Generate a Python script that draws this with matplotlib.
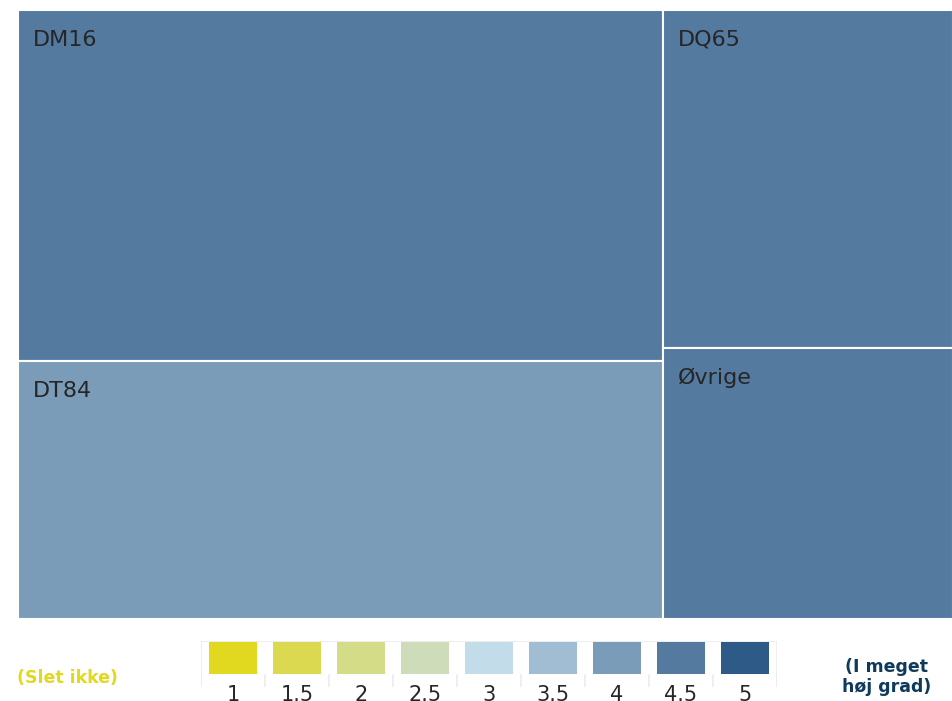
import matplotlib
matplotlib.use("Agg")
import matplotlib.pyplot as plt
from matplotlib.patches import Rectangle

# treemap tiles (share of total) and their score on the 1..5 scale
tile_names = ["DM16", "DT84", "DQ65", "Øvrige"]
tile_sizes = [39.8, 29.2, 17.2, 13.8]
tile_scores = [4.5, 4.0, 4.5, 4.5]

# colour legend
legend_steps = [1, 1.5, 2, 2.5, 3, 3.5, 4, 4.5, 5]
legend_labels = ["1", "1.5", "2", "2.5", "3", "3.5", "4", "4.5", "5"]
low_label = "(Slet ikke)"
high_label = "(I meget\nhøj grad)"

PALETTE = ["#E1D91F", "#DAD94F", "#D4DC88", "#CFDCB9", "#C3DCEA",
           "#A0BDD3", "#7A9CB8", "#547AA0", "#2E5A87"]


def score_color(score):
    return PALETTE[legend_steps.index(score)]


W, H = 953, 701
fig = plt.figure(figsize=(W / 100, H / 100), dpi=100)
fig.patch.set_facecolor("white")

# ───── treemap ─────
ax = fig.add_axes([18 / W, (H - 619) / H, 935 / W, 609 / H])
ax.set_xlim(0, 935)
ax.set_ylim(609, 0)
ax.axis("off")

# two columns: first two tiles left, last two right
columns = [(0, 2), (2, 4)]
total = sum(tile_sizes)
x0 = 0.0
for a, b in columns:
    col_sum = sum(tile_sizes[a:b])
    col_w = 935 * col_sum / total
    y0 = 0.0
    for i in range(a, b):
        h = 609 * tile_sizes[i] / col_sum
        ax.add_patch(Rectangle((x0, y0), col_w, h, facecolor=score_color(tile_scores[i]),
                               edgecolor="white", linewidth=1.5))
        ax.text(x0 + 15, y0 + 30, tile_names[i], fontsize=16, color="#262626",
                va="center", ha="left", family="DejaVu Sans")
        y0 += h
    x0 += col_w

# ───── legend ─────
lax = fig.add_axes([201 / W, (H - 720) / H, 576 / W, 79 / H])
lax.set_xlim(0, 576)
lax.set_ylim(79, 0)
lax.axis("off")
cell = 576 / len(legend_steps)
grid_c = "#EBEBEB"
lax.plot([0, 576], [0, 0], color=grid_c, lw=1.2)
for k in range(len(legend_steps) + 1):
    lax.plot([k * cell, k * cell], [34, 45], color=grid_c, lw=1.2)
lax.plot([0, 0], [0, 45], color=grid_c, lw=1.2)
lax.plot([576, 576], [0, 45], color=grid_c, lw=1.2)
for k, (s, lab) in enumerate(zip(legend_steps, legend_labels)):
    lax.add_patch(Rectangle((k * cell + 8, 1), 48, 32, facecolor=score_color(s), edgecolor="none"))
    lax.text(k * cell + cell / 2, 60, lab, fontsize=15, color="#262626",
             ha="center", va="baseline")

fig.text(67 / W, 1 - 678 / H, low_label, fontsize=12.5, fontweight="bold",
         color="#E1D91F", ha="center", va="center")
fig.text(887 / W, 1 - 677 / H, high_label, fontsize=12.5, fontweight="bold",
         color="#0E3A5C", ha="center", va="center", linespacing=1.15)

fig.savefig("out.png", dpi=100, facecolor="white")
